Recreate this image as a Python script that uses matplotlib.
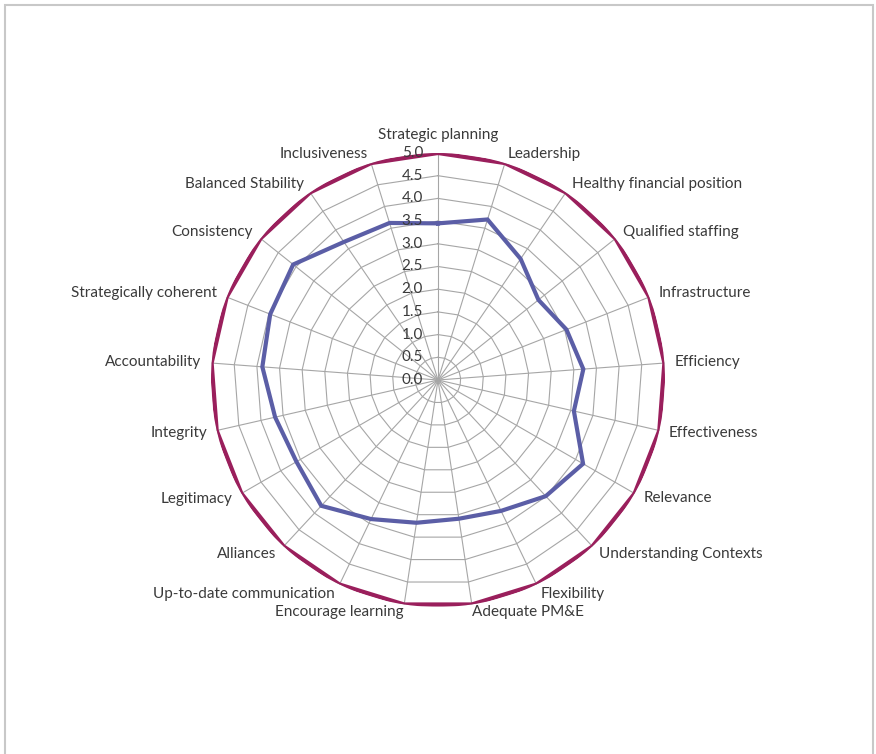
import numpy as np
import matplotlib
matplotlib.use("Agg")
import matplotlib.pyplot as plt
from matplotlib.patches import Rectangle

# ---------------------------------------------------------------------------
# Data
# ---------------------------------------------------------------------------
categories = [
    "Strategic planning", "Leadership", "Healthy financial position",
    "Qualified staffing", "Infrastructure", "Efficiency", "Effectiveness",
    "Relevance", "Understanding Contexts", "Flexibility", "Adequate PM&E",
    "Encourage learning", "Up-to-date communication", "Alliances",
    "Legitimacy", "Integrity", "Accountability", "Strategically coherent",
    "Consistency", "Balanced Stability", "Inclusiveness",
]
actual = [3.45, 3.7, 3.23, 2.83, 3.04, 3.21, 3.07, 3.69, 3.49, 3.2, 3.09,
          3.18, 3.4, 3.78, 3.6, 3.68, 3.88, 3.97, 4.08, 3.68, 3.62]
target = [5.0] * len(categories)
r_ticks = [0.0, 0.5, 1.0, 1.5, 2.0, 2.5, 3.0, 3.5, 4.0, 4.5, 5.0]

TEXT = "#3a3a3a"
GRID = "#a6a6a6"
RED = "#9a1f5c"
BLUE = "#5b5ea6"
FS = 11

plt.rcParams["font.family"] = ["Lato", "DejaVu Sans"]

fig = plt.figure(figsize=(8.76, 7.54), dpi=100, facecolor="white")
cx, cy, rad = 438 / 876, 1 - 380 / 754, 227
ax = fig.add_axes([cx - rad / 876, cy - rad / 754, 2 * rad / 876, 2 * rad / 754],
                  projection="polar")
ax.set_theta_zero_location("N")
ax.set_theta_direction(-1)
ax.set_ylim(0, 5)
ax.grid(False)
ax.set_xticks([])
ax.set_yticks([])
ax.spines["polar"].set_visible(False)
ax.patch.set_alpha(0)

n = len(categories)
theta = np.arange(n) * 2 * np.pi / n
theta_c = np.append(theta, theta[0])

# polygonal gridlines and spokes
for r in r_ticks[1:]:
    ax.plot(theta_c, [r] * (n + 1), color=GRID, lw=0.8, zorder=1)
for t in theta:
    ax.plot([t, t], [0, 5], color=GRID, lw=0.8, zorder=1)

ax.plot(theta_c, target + target[:1], color=RED, lw=3.0, zorder=3,
        solid_joinstyle="miter")
ax.plot(theta_c, actual + actual[:1], color=BLUE, lw=3.0, zorder=4,
        solid_joinstyle="miter")

# value axis labels
for r in r_ticks:
    ax.annotate(f"{r:.1f}", xy=(0, r), xytext=(-15, 0), textcoords="offset pixels",
                ha="right", va="center", fontsize=FS, color=TEXT, zorder=5)

# category labels
for t, lab in zip(theta, categories):
    s, c = np.sin(t), np.cos(t)
    if abs(s) < 0.05:
        ha, va, pad = "center", "bottom", 11
    elif c < -0.95:
        ha, va, pad = ("left" if s > 0 else "right"), "top", 1
    else:
        ha, va, pad = ("left" if s > 0 else "right"), "center", 10
    ax.annotate(lab, xy=(t, 5), xytext=(pad * s, pad * c), textcoords="offset pixels",
                ha=ha, va=va, fontsize=FS, color=TEXT, annotation_clip=False)

# chart-area border
fig.patches.append(Rectangle((5 / 876, -0.02), 868 / 876, 1 - 5 / 754 + 0.02,
                             transform=fig.transFigure, fill=False,
                             edgecolor="#c8c8c8", lw=1.5))

fig.savefig("out.png", dpi=100, facecolor="white")
